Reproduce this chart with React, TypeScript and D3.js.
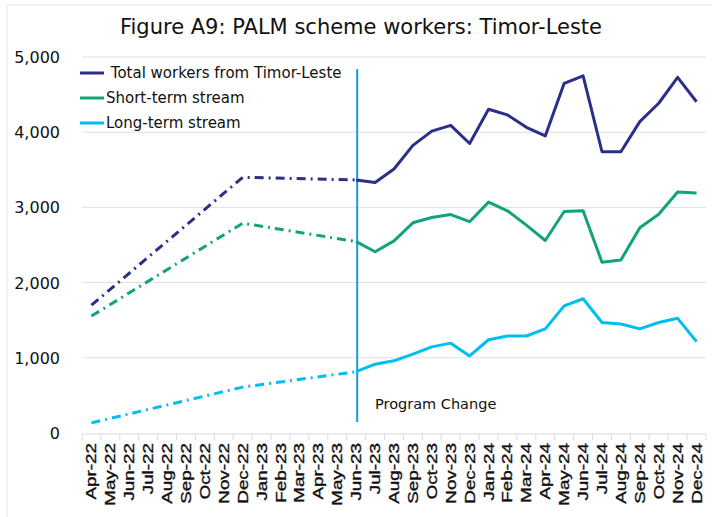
import React from "react";
import * as d3 from "d3";

const months = [
  "Apr-22","May-22","Jun-22","Jul-22","Aug-22","Sep-22","Oct-22","Nov-22","Dec-22",
  "Jan-23","Feb-23","Mar-23","Apr-23","May-23","Jun-23","Jul-23","Aug-23","Sep-23",
  "Oct-23","Nov-23","Dec-23","Jan-24","Feb-24","Mar-24","Apr-24","May-24","Jun-24",
  "Jul-24","Aug-24","Sep-24","Oct-24","Nov-24","Dec-24",
];

// Estimated values before program change (dash-dot), known points only
const totalBefore: [string, number][] = [["Apr-22", 1700], ["Dec-22", 3400], ["Jun-23", 3365]];
const shortBefore: [string, number][] = [["Apr-22", 1555], ["Dec-22", 2790], ["Jun-23", 2545]];
const longBefore: [string, number][] = [["Apr-22", 135], ["Dec-22", 610], ["Jun-23", 815]];

const afterMonths = months.slice(14);
const totalAfter = [3365, 3330, 3510, 3825, 4015, 4090, 3850, 4305, 4230, 4065, 3950, 4650, 4750, 3740, 3740, 4140, 4385, 4730, 4405];
const shortAfter = [2545, 2410, 2555, 2795, 2865, 2905, 2810, 3070, 2955, 2765, 2560, 2945, 2955, 2270, 2300, 2730, 2910, 3205, 3190];
const longAfter = [815, 915, 960, 1050, 1145, 1195, 1025, 1240, 1290, 1290, 1385, 1690, 1785, 1470, 1450, 1385, 1470, 1525, 1215];

const yTicks = [0, 1000, 2000, 3000, 4000, 5000];
const seriesNames = [" Total workers from Timor-Leste", "Short-term stream", "Long-term stream"];
const colors = ["#2B2F86", "#12A37A", "#00BDF2"];
const changeMonth = "Jun-23";
const changeLabel = "Program Change";
const title = "Figure A9: PALM scheme workers: Timor-Leste";

export default function App() {
  const W = 712, H = 517;
  const x0 = 82, x1 = 706, yTop = 57, yBot = 433;
  const x = d3.scaleBand<string>().domain(months).range([x0, x1]);
  const cx = (m: string) => (x(m) as number) + x.bandwidth() / 2;
  const y = d3.scaleLinear().domain([0, 5000]).range([yBot, yTop]);
  const line = d3.line<[string, number]>().x((d) => cx(d[0])).y((d) => y(d[1]));

  const before = [totalBefore, shortBefore, longBefore];
  const after = [totalAfter, shortAfter, longAfter].map((arr) =>
    arr.map((v, i) => [afterMonths[i], v] as [string, number])
  );
  const fmt = d3.format(",");
  const font = "'DejaVu Sans', Verdana, sans-serif";

  return (
    <svg width={W} height={H} style={{ position: "absolute", left: 0, top: 0 }}>
      <rect x={0} y={0} width={W} height={H} fill="#fff" />
      <line x1={7} x2={W} y1={5} y2={5} stroke="#e6e6e6" />
      <line x1={7} x2={7} y1={5} y2={H} stroke="#e6e6e6" />
      <text x={361} y={34} textAnchor="middle" fontFamily={font} fontSize={21} fill="#111">
        {title}
      </text>
      {yTicks.map((t) => (
        <g key={t}>
          {t > 0 && <line x1={x0} x2={x1} y1={y(t)} y2={y(t)} stroke="#e0e0e0" strokeWidth={1} />}
          <text x={60} y={y(t) + 6} textAnchor="end" fontFamily={font} fontSize={16} fill="#111">
            {fmt(t)}
          </text>
        </g>
      ))}
      <line x1={x0} x2={x1} y1={yBot + 1} y2={yBot + 1} stroke="#d9d9d9" />
      {months.map((m) => (
        <line key={"t" + m} x1={x(m)} x2={x(m)} y1={yBot + 1} y2={yBot + 7} stroke="#d9d9d9" />
      ))}
      <line x1={x1} x2={x1} y1={yBot + 1} y2={yBot + 7} stroke="#d9d9d9" />
      {months.map((m) => (
        <text
          key={m}
          transform={`translate(${cx(m) + 5},443) rotate(-90) scale(1.3,1)`}
          textAnchor="end"
          fontFamily="'Liberation Sans', Arial, sans-serif"
          fontSize={14.5}
          fill="#111"
          stroke="#111"
          strokeWidth={0.35}
        >
          {m}
        </text>
      ))}
      <line x1={cx(changeMonth) + 1} x2={cx(changeMonth) + 1} y1={69} y2={422} stroke="#1A9BD7" strokeWidth={2} />
      <text x={375} y={409} fontFamily={font} fontSize={14.5} fill="#111">{changeLabel}</text>
      {before.map((d, i) => (
        <path key={"b" + i} d={line(d) || ""} fill="none" stroke={colors[i]} strokeWidth={3} strokeDasharray="9,5,2,5" />
      ))}
      {after.map((d, i) => (
        <path key={"a" + i} d={line(d) || ""} fill="none" stroke={colors[i]} strokeWidth={3} strokeLinejoin="round" />
      ))}
      {seriesNames.map((n, i) => (
        <g key={n}>
          <line x1={80} x2={104} y1={73 + i * 25} y2={73 + i * 25} stroke={colors[i]} strokeWidth={3} />
          <text x={106} y={78 + i * 25} fontFamily={font} fontSize={15} fill="#111" style={{ whiteSpace: "pre" }}>
            {n}
          </text>
        </g>
      ))}
    </svg>
  );
}
